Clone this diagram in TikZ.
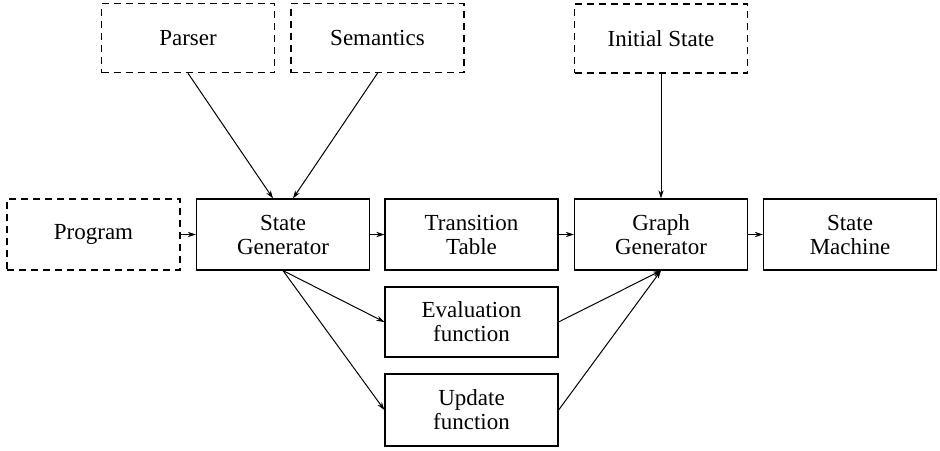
\documentclass[tikz,border=0pt]{standalone}
\usepackage{fontspec}
\setmainfont{Liberation Serif}
\usetikzlibrary{arrows.meta}
\begin{document}
\begin{tikzpicture}[x=0.5pt,y=-0.5pt,
  block/.style={draw, line width=0.6pt, minimum width=86.5pt, minimum height=35.5pt,
    inner sep=1pt, align=center, font=\rmfamily\fontsize{11.5}{12}\selectfont},
  extbox/.style={block, line width=0.75pt, dash pattern=on 3.5pt off 2.5pt},
  flow/.style={line width=0.5pt, -{Stealth[length=4pt,width=2.6pt]}}]
\useasboundingbox (0,0) rectangle (940,450);
% external inputs
\node[extbox, minimum height=34.5pt] (parser)    at (188,38)   {Parser};
\node[extbox, minimum height=34.5pt] (semantics) at (377.5,38) {Semantics};
\node[extbox, minimum height=34.5pt] (initial)   at (661,38.5) {Initial State};
\node[extbox] (program) at (93.5,234.5) {Program};
% processing chain
\node[block] (stategen) at (283,234.5)   {State\\Generator};
\node[block] (table)    at (471.5,234.5) {Transition\\Table};
\node[block] (graphgen) at (661,234.5)   {Graph\\Generator};
\node[block] (machine)  at (850,234.5)   {State\\Machine};
\node[block, minimum height=35pt] (eval)   at (471.5,322) {Evaluation\\function};
\node[block, minimum height=36pt] (update) at (471.5,410) {Update\\function};
% connectors
\draw[flow] (parser.south)    -- ([xshift=-5pt]stategen.north);
\draw[flow] (semantics.south) -- ([xshift=5pt]stategen.north);
\draw[flow] (initial.south)   -- (graphgen.north);
\draw[flow] (program)  -- (stategen);
\draw[flow] (stategen) -- (table);
\draw[flow] (table)    -- (graphgen);
\draw[flow] (graphgen) -- (machine);
\draw[flow] (stategen.south) -- (eval.west);
\draw[flow] (stategen.south) -- (update.west);
\draw[flow] (eval.east)   -- (graphgen.south);
\draw[flow] (update.east) -- (graphgen.south);
\end{tikzpicture}
\end{document}
